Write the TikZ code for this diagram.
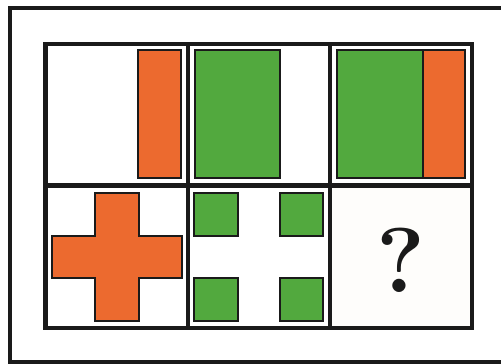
\documentclass[tikz,border=0pt]{standalone}
\usepackage{tikz}
\definecolor{puzzleorange}{HTML}{EC6A2F}
\definecolor{puzzlegreen}{HTML}{52A93E}
\definecolor{lineblack}{HTML}{1A1A1A}
\definecolor{paper}{HTML}{FEFDFB}

\begin{document}
\begin{tikzpicture}[x=1pt,y=-1pt,
    frame/.style={draw=lineblack,line width=4.8pt},
    piece/.style={draw=lineblack,line width=2pt}]
\useasboundingbox (0,0) rectangle (501,364);

% Outer frame
\draw[frame] (10,8) rectangle (508,362);

% Answer cell background
\fill[paper] (330,185.5) rectangle (472,328);

% Top row
\draw[piece,fill=puzzleorange] (138,50) rectangle (181,178);
\draw[piece,fill=puzzlegreen] (195,50) rectangle (280,178);
\draw[piece,fill=puzzlegreen] (337,50) rectangle (423,178);
\draw[piece,fill=puzzleorange] (423,50) rectangle (465,178);

% Cross
\draw[piece,fill=puzzleorange] (95,193) -- (139,193) -- (139,236) -- (182,236)
    -- (182,278) -- (139,278) -- (139,321) -- (95,321) -- (95,278) -- (52,278)
    -- (52,236) -- (95,236) -- cycle;

% Four squares
\draw[piece,fill=puzzlegreen] (194,193) rectangle (238,236);
\draw[piece,fill=puzzlegreen] (280,193) rectangle (323,236);
\draw[piece,fill=puzzlegreen] (194,278) rectangle (238,321);
\draw[piece,fill=puzzlegreen] (280,278) rectangle (323,321);

% Question
\node[text=lineblack,inner sep=0pt] (q) at (401,260.5) {\fontsize{92}{92}\selectfont\bfseries ?};

% Grid
\draw[frame] (45.5,44) rectangle (472,328);
\draw[frame] (188,44) -- (188,328);
\draw[frame] (330,44) -- (330,328);
\draw[frame] (45.5,185.5) -- (472,185.5);

\end{tikzpicture}
\end{document}
